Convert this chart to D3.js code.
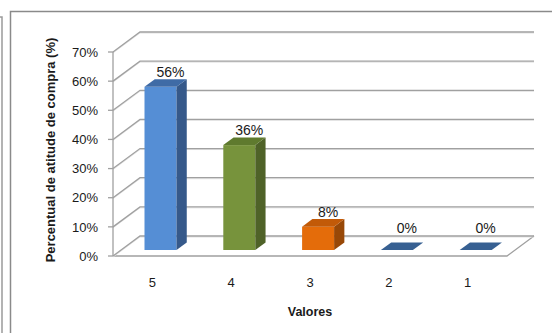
<!DOCTYPE html>
<html lang="pt">
<head>
<meta charset="UTF-8">
<title>Percentual de atitude de compra</title>
<script src="https://d3js.org/d3.v7.min.js"></script>
<style>
  body { margin: 0; background: #fff; }
  svg { display: block; font-family: "Liberation Sans", Arial, sans-serif; }
  .tick-label { font-size: 13px; fill: #1a1a1a; }
  .data-label { font-size: 14px; fill: #1a1a1a; }
  .axis-title { font-size: 12.5px; font-weight: bold; fill: #1a1a1a; }
</style>
</head>
<body>
<div id="chart"></div>
<script>
// data
const categories = ["5", "4", "3", "2", "1"];
const values = [0.56, 0.36, 0.08, 0, 0];
const dataLabels = ["56%", "36%", "8%", "0%", "0%"];
const yTicks = [0, 0.1, 0.2, 0.3, 0.4, 0.5, 0.6, 0.7];

// colours per bar: front, side, top
const barColors = [
  { front: "#558ed5", side: "#36598a", top: "#3f6ba6" },
  { front: "#77933c", side: "#4f6228", top: "#5f7a2e" },
  { front: "#e46c0a", side: "#984807", top: "#c25a08" },
  { front: "#376092", side: "#2a4a70", top: "#376092" },
  { front: "#376092", side: "#2a4a70", top: "#376092" }
];

const W = 552, H = 333;
const svg = d3.select("#chart").append("svg")
  .attr("width", W).attr("height", H);

// frames
svg.append("path")
  .attr("d", `M0,17H2V${H}`)
  .attr("fill", "none").attr("stroke", "#9a9a9a").attr("stroke-width", 1.5);
svg.append("rect")
  .attr("x", 10.5).attr("y", 11.5).attr("width", W).attr("height", H)
  .attr("fill", "none").attr("stroke", "#8a8a8a").attr("stroke-width", 1.5);

// scales (front plane)
const x = d3.scaleBand().domain(categories).range([113, 507]);
const y = d3.scaleLinear().domain([0, 0.7]).range([256, 52]);
const DX = 27, DY = -20;            // full floor depth
const bf = 0.3, bb = 0.68;          // bar front/back depth fraction

const grid = svg.append("g");
// floor
grid.append("path")
  .attr("d", `M${x.range()[0]},${y(0)}L${x.range()[1]},${y(0)}L${x.range()[1] + DX},${y(0) + DY}`)
  .attr("fill", "none").attr("stroke", "#a0a0a0").attr("stroke-width", 1.3);

yTicks.forEach(t => {
  const x0 = x.range()[0], y0 = y(t);
  // side wall diagonal + back wall line, with a faint shadow
  const d = `M${x0},${y0}L${x0 + DX},${y0 + DY}L${x.range()[1] + DX},${y0 + DY}`;
  grid.append("path").attr("d", d).attr("transform", "translate(0,1)")
    .attr("fill", "none").attr("stroke", "#e2e2e2").attr("stroke-width", 1);
  grid.append("path").attr("d", d)
    .attr("fill", "none").attr("stroke", "#a0a0a0").attr("stroke-width", 1.3);
  grid.append("line")
    .attr("x1", x0 - 5).attr("x2", x0).attr("y1", y0).attr("y2", y0)
    .attr("stroke", "#a0a0a0").attr("stroke-width", 1.3);
});

// y axis line
grid.append("line")
  .attr("x1", 113).attr("x2", 113).attr("y1", y(0.7)).attr("y2", y(0))
  .attr("stroke", "#a0a0a0").attr("stroke-width", 1.3);

// y tick labels
svg.append("g").selectAll("text")
  .data(yTicks).join("text")
  .attr("class", "tick-label")
  .attr("x", 98).attr("y", d => y(d))
  .attr("dy", "0.36em")
  .attr("text-anchor", "end")
  .text(d3.format(".0%"));

// bars
const bw = 32;
const bars = svg.append("g").selectAll("g")
  .data(categories).join("g");

bars.each(function (c, i) {
  const g = d3.select(this);
  const col = barColors[i];
  const xl = x(c) + x.bandwidth() / 2 - 16 + DX * bf;
  const xr = xl + bw;
  const yb = y(0) + DY * bf;
  const yt = y(values[i]) + DY * bf;
  const ddx = DX * (bb - bf), ddy = DY * (bb - bf);
  if (values[i] > 0) {
    g.append("rect").attr("x", xl).attr("y", yt)
      .attr("width", bw).attr("height", yb - yt).attr("fill", col.front);
    g.append("path")
      .attr("d", `M${xr},${yt}L${xr + ddx},${yt + ddy}L${xr + ddx},${yb + ddy}L${xr},${yb}Z`)
      .attr("fill", col.side);
  }
  g.append("path")
    .attr("d", `M${xl},${yt}L${xr},${yt}L${xr + ddx},${yt + ddy}L${xl + ddx},${yt + ddy}Z`)
    .attr("fill", col.top);
  g.append("text")
    .attr("class", "data-label")
    .attr("x", xl + bw / 2 + 10)
    .attr("y", yt - (values[i] > 0 ? 10 : 17))
    .attr("text-anchor", "middle")
    .text(dataLabels[i]);
});

// category labels
svg.append("g").selectAll("text")
  .data(categories).join("text")
  .attr("class", "tick-label")
  .attr("x", d => x(d) + x.bandwidth() / 2)
  .attr("y", 287)
  .attr("text-anchor", "middle")
  .text(d => d);

// axis titles
svg.append("text")
  .attr("class", "axis-title")
  .attr("x", 310).attr("y", 316)
  .attr("text-anchor", "middle")
  .text("Valores");

svg.append("text")
  .attr("class", "axis-title")
  .attr("transform", "translate(55,150) rotate(-90)")
  .attr("text-anchor", "middle")
  .style("font-size", "13px")
  .text("Percentual de atitude de compra (%)");
</script>
</body>
</html>
